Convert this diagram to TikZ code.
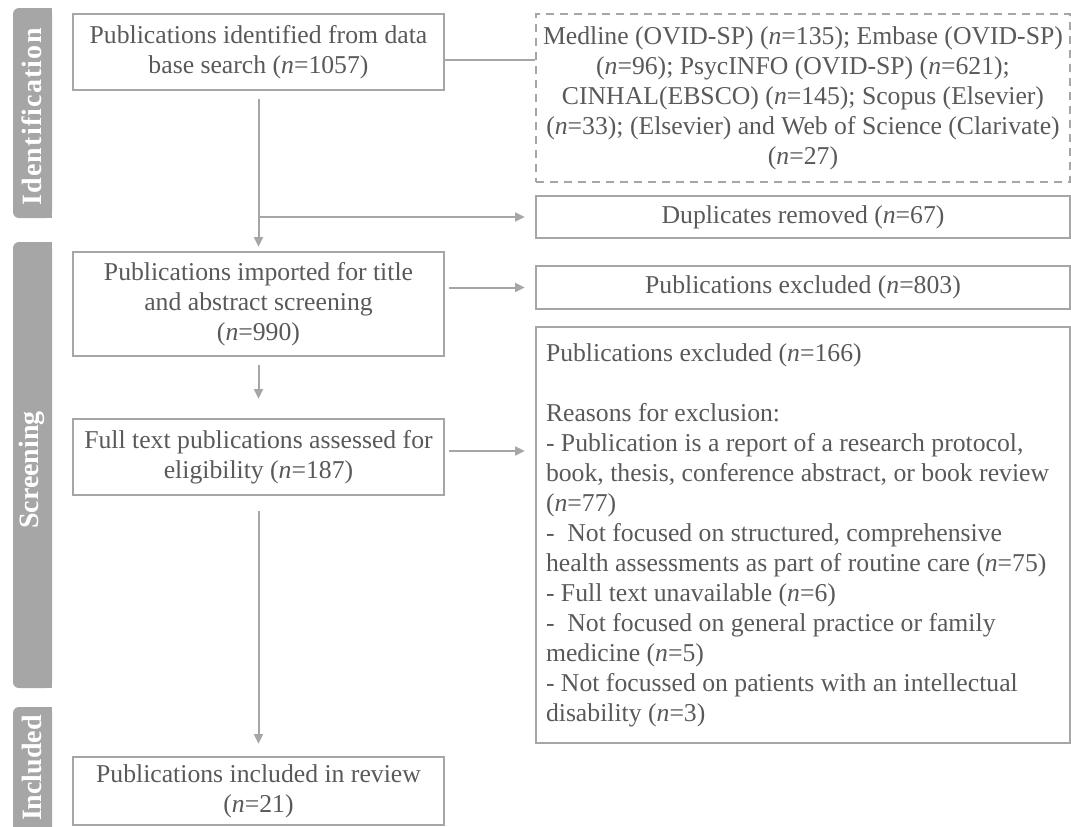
\documentclass[tikz,border=0pt]{standalone}
\usepackage{fontspec}
\setmainfont{Liberation Serif}
\usetikzlibrary{calc,arrows.meta,positioning}
\definecolor{linegray}{HTML}{A6A6A6}
\definecolor{textgray}{HTML}{595959}
\definecolor{phasegray}{HTML}{A6A6A6}

\begin{document}
\begin{tikzpicture}
   [x=0.5pt,y=-0.5pt,
    every node/.style={font=\fontsize{12.85}{15}\selectfont,text=textgray},
    leftbox/.style={draw=linegray,line width=1.2pt,align=center,inner sep=0pt,
           minimum width=185.5pt,minimum height=#1},
    rightbox/.style={draw=linegray,line width=1.2pt,align=center,inner sep=0pt,
           minimum width=267pt,minimum height=#1},
    phase/.style={fill=phasegray},
    phasetext/.style={rotate=90,text=white,font=\fontsize{14}{16}\selectfont\bfseries},
    link/.style={draw=linegray,line width=1pt},
    arrow/.style={link,-{Triangle[length=4.8pt,width=4.4pt]}}]
\useasboundingbox (0,0) rectangle (1071,826);

% phase bars
\fill[phase,rounded corners=3pt] (13,8) rectangle (52,218);
\fill[phase] (32,8) rectangle (52,218);
\fill[phase,rounded corners=3pt] (13,242) rectangle (52,688);
\fill[phase] (32,242) rectangle (52,688);
\fill[phase,rounded corners=3pt] (13,707) rectangle (52,840);
\fill[phase] (32,707) rectangle (52,840);
\node[phasetext] (ident) at (32,117) {I\kern0.6pt d\kern0.6pt e\kern0.6pt n\kern0.6pt t\kern0.6pt i\kern0.6pt f\kern0.6pt i\kern0.6pt c\kern0.6pt a\kern0.6pt t\kern0.6pt i\kern0.6pt o\kern0.6pt n};
\node[phasetext] (screen) at (32,470) {Screening};
\node[phasetext] (incl) at (32,768) {Included};

% left column
\node[leftbox=38pt] (found) at (258.5,52) {Publications identified from data\\base search (\textit{n}=1057)};
\node[leftbox=52pt] (imported) at (258.5,304) {Publications imported for title\\and abstract screening\\(\textit{n}=990)};
\node[leftbox=38pt] (fulltext) at (258.5,457) {Full text publications assessed for\\eligibility (\textit{n}=187)};
\node[leftbox=34pt] (included) at (258.5,791) {Publications included in review\\(\textit{n}=21)};

% right column
\node[rightbox=84pt,dash pattern=on 4pt off 3pt] (sources) at (803,98)
   {Medline (OVID-SP) (\textit{n}=135); Embase (OVID-SP)\\(\textit{n}=96); PsycINFO (OVID-SP) (\textit{n}=621);\\CINHAL(EBSCO) (\textit{n}=145); Scopus (Elsevier)\\(\textit{n}=33); (Elsevier) and Web of Science (Clarivate)\\(\textit{n}=27)};
\node[rightbox=21pt] (dupl) at (803,217) {Duplicates removed (\textit{n}=67)};
\node[rightbox=21.5pt] (exclA) at (803,287.5) {Publications excluded (\textit{n}=803)};
\node[rightbox=208pt,align=flush left,inner xsep=5pt,text width=257pt] (exclB) at (803,535)
   {Publications excluded (\textit{n}=166)\\[15pt]
    Reasons for exclusion:\\
    - Publication is a report of a research protocol,\\
    book, thesis, conference abstract, or book review\\
    (\textit{n}=77)\\
    -\ \ Not focused on structured, comprehensive\\
    health assessments as part of routine care (\textit{n}=75)\\
    - Full text unavailable (\textit{n}=6)\\
    -\ \ Not focused on general practice or family\\
    medicine (\textit{n}=5)\\
    - Not focussed on patients with an intellectual\\
    disability (\textit{n}=3)};

% connectors
\coordinate (split) at (found.south |- dupl.west);
\draw[link] ($(found.east)+(0,8)$) -- ($(found.east -| sources.west)+(0,8)$);
\draw[arrow] ($(found.south)+(0,8)$) -- ($(imported.north)+(0,-4)$);
\draw[arrow] (split) -- ($(dupl.west)+(-10,0)$);
\draw[arrow] ($(imported.east |- exclA.west)+(4,0)$) -- ($(exclA.west)+(-10,0)$);
\draw[arrow] ($(imported.south)+(0,8)$) -- ($(fulltext.north)+(0,-19)$);
\draw[arrow] ($(fulltext.east)+(4,-6)$) -- ($(fulltext.east -| exclB.west)+(-10,-6)$);
\draw[arrow] ($(fulltext.south)+(0,15)$) -- ($(included.north)+(0,-12)$);
\end{tikzpicture}
\end{document}
